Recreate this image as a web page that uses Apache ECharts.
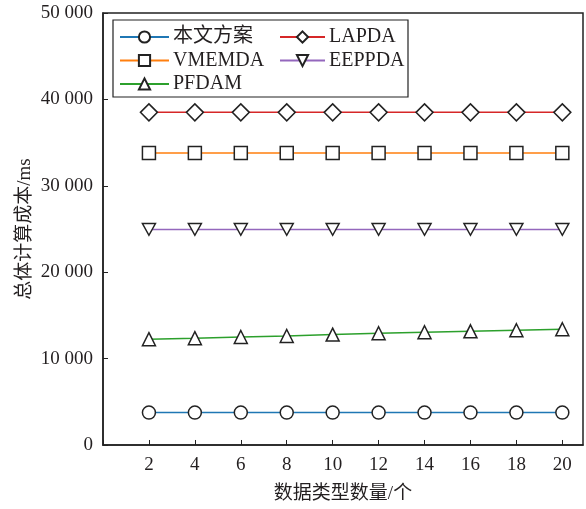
<!DOCTYPE html>
<html>
<head>
<meta charset="utf-8">
<script src="https://cdn.jsdelivr.net/npm/echarts@6/dist/echarts.min.js"></script>
<style>
  html, body { margin: 0; padding: 0; background: #fff; }
  #chart { width: 586px; height: 509px; }
</style>
</head>
<body>
<div id="chart"></div>
<script>
// Number of data types (x) and total computation cost in ms (y)
const dataTypeCounts = [2, 4, 6, 8, 10, 12, 14, 16, 18, 20];
const ours   = [3750, 3750, 3750, 3750, 3750, 3750, 3750, 3750, 3750, 3750];
const lapda  = [38500, 38500, 38500, 38500, 38500, 38500, 38500, 38500, 38500, 38500];
const vmemda = [33800, 33800, 33800, 33800, 33800, 33800, 33800, 33800, 33800, 33800];
const eeppda = [24950, 24950, 24950, 24950, 24950, 24950, 24950, 24950, 24950, 24950];
const pfdam  = [12250, 12360, 12500, 12620, 12780, 12930, 13050, 13160, 13280, 13400];
const yTicks = [0, 10000, 20000, 30000, 40000, 50000];

const serif = '"Liberation Serif", "Noto Sans CJK SC", serif';
const textColor = '#231f20';

function pairs(vals) {
  return dataTypeCounts.map((x, i) => [x, vals[i]]);
}

function makeSeries(name, vals, color, symbol) {
  return {
    name: name,
    type: 'line',
    data: pairs(vals),
    symbol: symbol,
    symbolSize: symbol === 'diamond' ? 17 : 13,
    symbolKeepAspect: true,
    lineStyle: { color: color, width: 1.5 },
    itemStyle: { color: '#fff', borderColor: '#222', borderWidth: 1.5 },
    emphasis: { disabled: true },
    animation: false
  };
}

const chart = echarts.init(document.getElementById('chart'));

const legendCommon = {
  orient: 'vertical',
  itemHeight: 14,
  itemGap: 3.5,
  textStyle: { fontFamily: serif, fontSize: 20, color: textColor, padding: [0, 0, 0, -1] },
  selectedMode: false
};

chart.setOption({
  backgroundColor: '#fff',
  grid: {
    left: 103, right: 3, top: 13, bottom: 63,
    show: true, borderColor: '#222', borderWidth: 1.5
  },
  xAxis: {
    type: 'value',
    min: 0, max: 20.9, interval: 2,
    name: '数据类型数量/个',
    nameLocation: 'middle',
    nameGap: 40,
    nameMoveOverlap: false,
    nameTextStyle: { fontFamily: serif, fontSize: 19, color: textColor },
    axisLine: { lineStyle: { color: '#222', width: 1.5 } },
    axisTick: { inside: true, length: 5, lineStyle: { color: '#222' } },
    axisLabel: {
      fontFamily: serif, fontSize: 19, color: textColor, margin: 11,
      formatter: v => (v === 0 ? '' : String(v))
    },
    splitLine: { show: false }
  },
  yAxis: {
    type: 'value',
    min: yTicks[0], max: yTicks[yTicks.length - 1], interval: 10000,
    name: '总体计算成本/ms',
    nameLocation: 'middle',
    nameGap: 68,
    nameMoveOverlap: false,
    nameTextStyle: { fontFamily: serif, fontSize: 19, color: textColor },
    axisLine: { show: true, lineStyle: { color: '#222', width: 1.5 } },
    axisTick: { show: true, inside: true, length: 5, lineStyle: { color: '#222' } },
    axisLabel: {
      fontFamily: serif, fontSize: 19, color: textColor, margin: 10,
      formatter: v => String(v).replace(/\B(?=(\d{3})+(?!\d))/g, ' ')
    },
    splitLine: { show: false }
  },
  legend: [
    Object.assign({ left: 114, top: 22, itemWidth: 49, data: ['本文方案', 'VMEMDA', 'PFDAM'] }, legendCommon),
    Object.assign({ left: 274, top: 22, itemWidth: 45, data: ['LAPDA', 'EEPPDA'] }, legendCommon)
  ],
  graphic: [{
    type: 'rect',
    shape: { x: 113, y: 20, width: 295, height: 77 },
    style: { fill: 'none', stroke: '#222', lineWidth: 1.2 },
    z: 100
  }],
  series: [
    makeSeries('本文方案', ours, '#1f77b4', 'circle'),
    makeSeries('LAPDA', lapda, '#d62728', 'diamond'),
    makeSeries('VMEMDA', vmemda, '#ff7f0e', 'rect'),
    makeSeries('EEPPDA', eeppda, '#9467bd', 'path://M0,0 L10,0 L5,9 Z'),
    makeSeries('PFDAM', pfdam, '#2ca02c', 'triangle')
  ]
});
</script>
</body>
</html>
